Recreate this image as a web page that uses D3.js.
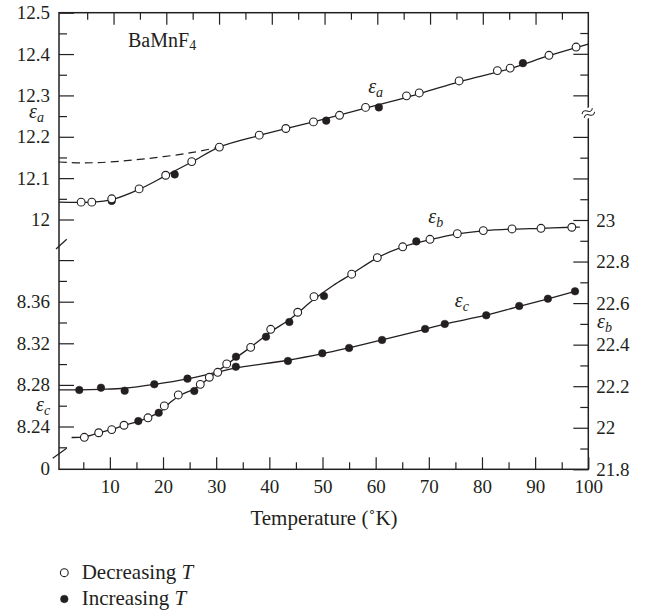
<!DOCTYPE html>
<html>
<head>
<meta charset="utf-8">
<script src="https://cdn.jsdelivr.net/npm/d3@7"></script>
<style>
  body { margin: 0; background: #fff; }
  svg { display: block; }
  svg text { font-family: "Liberation Serif", "DejaVu Serif", serif; }
</style>
</head>
<body>
<svg id="chart"></svg>
<script>
const app = (function () {
  'use strict';

  // epsilon_a (upper left scale), [T, value]
  const epsAOpen = [
    [4.6, 12.042], [6.6, 12.042], [10.35, 12.050], [15.5, 12.074], [20.5, 12.107],
    [25.4, 12.140], [30.6, 12.175], [38.1, 12.204], [43.1, 12.220], [48.3, 12.236],
    [53.2, 12.252], [58.1, 12.271], [65.8, 12.299], [68.2, 12.306], [75.7, 12.335],
    [82.9, 12.360], [85.3, 12.366], [92.6, 12.397], [97.7, 12.417]
  ];
  const epsAFilled = [[10.35, 12.045], [22.2, 12.109], [50.7, 12.239], [60.6, 12.271], [87.7, 12.378]];
  const epsALine = [
    [0.4, 12.042], [6.6, 12.042], [10.35, 12.048], [15.5, 12.073], [20.5, 12.106],
    [25.4, 12.139], [30.6, 12.175], [38.1, 12.203], [48.3, 12.236], [58.1, 12.269],
    [68.2, 12.304], [75.7, 12.333], [85.3, 12.365], [92.6, 12.396], [100, 12.424]
  ];
  const epsADashed = [[0.4, 12.139], [5, 12.137], [10, 12.139], [17.5, 12.148], [25, 12.161], [30.6, 12.175]];

  // epsilon_b (right scale)
  const epsBOpen = [
    [5.2, 21.954], [7.9, 21.976], [10.35, 21.991], [12.66, 22.012], [17.17, 22.048],
    [20.24, 22.105], [22.87, 22.158], [27.01, 22.209], [28.71, 22.243], [30.29, 22.267],
    [31.98, 22.307], [36.49, 22.387], [40.26, 22.474], [45.34, 22.556], [48.4, 22.631],
    [55.49, 22.739], [60.31, 22.819], [65.09, 22.871], [70.22, 22.907], [75.36, 22.934],
    [80.25, 22.949], [85.65, 22.957], [91.1, 22.960], [96.9, 22.965]
  ];
  const epsBFilled = [
    [15.35, 22.032], [19.19, 22.072], [25.88, 22.177], [33.73, 22.342],
    [39.37, 22.438], [43.76, 22.509], [50.28, 22.634], [67.65, 22.897]
  ];
  const epsBLine = [
    [2.8, 21.953], [5.2, 21.956], [7.9, 21.975], [10.35, 21.992], [12.66, 22.011],
    [15.35, 22.031], [17.17, 22.048], [19.5, 22.078], [21.5, 22.125], [23.5, 22.160],
    [25.9, 22.187], [28.7, 22.240], [32, 22.305], [36.5, 22.388], [40.3, 22.462],
    [44, 22.525], [48.4, 22.618], [52, 22.685], [55.5, 22.740], [60.3, 22.818],
    [65.1, 22.871], [70.2, 22.905], [75.4, 22.933], [80.2, 22.948], [85.6, 22.956],
    [91.1, 22.960], [96.9, 22.965], [98.4, 22.966]
  ];

  // epsilon_c (lower left scale)
  const epsCFilled = [
    [4.25, 8.2751], [8.33, 8.2773], [12.79, 8.2744], [18.36, 8.2806], [24.6, 8.2860],
    [33.7, 8.2975], [43.5, 8.3030], [49.96, 8.3104], [55.0, 8.3155], [61.2, 8.3232],
    [69.3, 8.3338], [73.0, 8.3386], [80.8, 8.3469], [87.0, 8.3559], [92.4, 8.3629], [97.5, 8.3700]
  ];
  const epsCLine = [
    [0.4, 8.2753], [4.25, 8.2752], [8.3, 8.2757], [12.8, 8.2768], [18.4, 8.2805],
    [24.6, 8.2858], [30, 8.2920], [33.7, 8.2963], [43.5, 8.3037], [50, 8.3100],
    [55, 8.3157], [61.2, 8.3232], [69.3, 8.3335], [73, 8.3385], [80.8, 8.3470],
    [87, 8.3556], [92.4, 8.3628], [97.5, 8.3700]
  ];

  // ticks
  const xMajor = [10, 20, 30, 40, 50, 60, 70, 80, 90, 100];
  const xMinor = [5, 15, 25, 35, 45, 55, 65, 75, 85, 95];
  const aMajor = [12, 12.1, 12.2, 12.3, 12.4, 12.5];
  const aMinor = [12.05, 12.15, 12.25, 12.35, 12.45];
  const cMajor = [8.24, 8.28, 8.32, 8.36, 8.40];
  const cMinor = [8.22, 8.26, 8.30, 8.34, 8.38];
  const bMajor = [21.8, 22, 22.2, 22.4, 22.6, 22.8, 23, 23.2, 23.4, 23.6, 23.8];
  const bMinor = [21.9, 22.1, 22.3, 22.5, 22.7, 22.9, 23.1, 23.3, 23.7, 23.9];

  const ink = '#231f20';

  function init () {
    draw();
  }

  function draw () {
    const W = 646;
    const H = 613;
    const frame = { left: 59, right: 588.3, top: 12.7, bottom: 469.3 };

    const x = d3.scaleLinear().domain([0, 100]).range([56.7, frame.right]);
    const xTop = d3.scaleLinear().domain([0, 100]).range([60.8, frame.right]);
    const yA = d3.scaleLinear().domain([12, 12.5]).range([219.5, frame.top]);
    const yB = d3.scaleLinear().domain([21.8, 23]).range([frame.bottom, 220]);
    const yC = d3.scaleLinear().domain([8.24, 8.36]).range([426.5, 301.7]);

    const svg = d3.select('#chart')
      .attr('width', W)
      .attr('height', H)
      .attr('viewBox', '0 0 ' + W + ' ' + H);

    function styleAxis (g) {
      g.select('.domain').remove();
      g.attr('font-family', null).attr('font-size', 19);
      g.selectAll('line').attr('stroke', ink).attr('stroke-width', 1.2);
      g.selectAll('text').attr('fill', ink);
    }

    // bottom
    svg.append('g')
      .attr('transform', 'translate(0,' + frame.bottom + ')')
      .call(d3.axisBottom(x).tickValues(xMajor).tickSizeInner(-12).tickSizeOuter(0).tickPadding(10.5).tickFormat(d3.format('d')))
      .call(styleAxis);
    svg.append('g')
      .attr('transform', 'translate(0,' + frame.bottom + ')')
      .call(d3.axisBottom(x).tickValues(xMinor).tickSizeInner(-7).tickSizeOuter(0).tickFormat(''))
      .call(styleAxis);

    // top
    svg.append('g')
      .attr('transform', 'translate(0,' + frame.top + ')')
      .call(d3.axisTop(xTop).tickValues(xMajor.slice(0, -1)).tickSizeInner(-12).tickSizeOuter(0).tickFormat(''))
      .call(styleAxis);
    svg.append('g')
      .attr('transform', 'translate(0,' + frame.top + ')')
      .call(d3.axisTop(xTop).tickValues(xMinor).tickSizeInner(-7).tickSizeOuter(0).tickFormat(''))
      .call(styleAxis);

    // left upper (eps a)
    svg.append('g')
      .attr('transform', 'translate(' + frame.left + ',0)')
      .call(d3.axisLeft(yA).tickValues(aMajor).tickSizeInner(-15).tickSizeOuter(0).tickPadding(9).tickFormat(function (d) { return String(d); }))
      .call(styleAxis);
    svg.append('g')
      .attr('transform', 'translate(' + frame.left + ',0)')
      .call(d3.axisLeft(yA).tickValues(aMinor).tickSizeInner(-8).tickSizeOuter(0).tickFormat(''))
      .call(styleAxis);

    // left lower (eps c)
    svg.append('g')
      .attr('transform', 'translate(' + frame.left + ',0)')
      .call(d3.axisLeft(yC).tickValues(cMajor).tickSizeInner(-15).tickSizeOuter(0).tickPadding(9)
        .tickFormat(function (d) { return d === 8.40 ? '' : d.toFixed(2); }))
      .call(styleAxis);
    svg.append('g')
      .attr('transform', 'translate(' + frame.left + ',0)')
      .call(d3.axisLeft(yC).tickValues(cMinor).tickSizeInner(-8).tickSizeOuter(0).tickFormat(''))
      .call(styleAxis);

    // right (eps b)
    svg.append('g')
      .attr('transform', 'translate(' + frame.right + ',0)')
      .call(d3.axisRight(yB).tickValues(bMajor).tickSizeInner(-15).tickSizeOuter(0).tickPadding(8)
        .tickFormat(function (d) { return d <= 23 ? String(d) : ''; }))
      .call(styleAxis);
    svg.append('g')
      .attr('transform', 'translate(' + frame.right + ',0)')
      .call(d3.axisRight(yB).tickValues(bMinor).tickSizeInner(-8).tickSizeOuter(0).tickFormat(''))
      .call(styleAxis);

    // frame
    svg.append('rect')
      .attr('x', frame.left)
      .attr('y', frame.top)
      .attr('width', frame.right - frame.left)
      .attr('height', frame.bottom - frame.top)
      .attr('fill', 'none')
      .attr('stroke', ink)
      .attr('stroke-width', 1.5);

    // "0" at the bottom of the left axis
    svg.append('text')
      .attr('x', frame.left - 9)
      .attr('y', frame.bottom)
      .attr('dy', '0.32em')
      .attr('text-anchor', 'end')
      .attr('font-size', 19)
      .attr('fill', ink)
      .text('0');

    // axis breaks
    svg.append('line')
      .attr('x1', frame.left - 3).attr('y1', 249)
      .attr('x2', frame.left + 7.7).attr('y2', 239.3)
      .attr('stroke', ink).attr('stroke-width', 1.2);
    svg.append('line')
      .attr('x1', frame.left - 6.3).attr('y1', 458.3)
      .attr('x2', frame.left + 7.7).attr('y2', 448.3)
      .attr('stroke', ink).attr('stroke-width', 1.2);
    const brk = svg.append('g')
      .attr('transform', 'translate(' + frame.right + ',113) rotate(-30)');
    brk.append('rect')
      .attr('x', -6).attr('y', -4.5)
      .attr('width', 12).attr('height', 9)
      .attr('fill', '#fff');
    [-2.2, 2.2].forEach(function (dy) {
      brk.append('path')
        .attr('d', 'M-6,' + dy + ' q3,-3.5 6,0 t6,0')
        .attr('fill', 'none')
        .attr('stroke', ink)
        .attr('stroke-width', 1);
    });

    // curves
    function lineFor (yScale) {
      return d3.line()
        .x(function (d) { return x(d[0]); })
        .y(function (d) { return yScale(d[1]); })
        .curve(d3.curveCatmullRom.alpha(0.5));
    }

    svg.append('path')
      .attr('d', lineFor(yA)(epsADashed))
      .attr('fill', 'none')
      .attr('stroke', ink)
      .attr('stroke-width', 1.2)
      .attr('stroke-dasharray', '8,5');

    [[epsALine, yA], [epsBLine, yB], [epsCLine, yC]].forEach(function (s) {
      svg.append('path')
        .attr('d', lineFor(s[1])(s[0]))
        .attr('fill', 'none')
        .attr('stroke', ink)
        .attr('stroke-width', 1.3);
    });

    // markers
    function dots (data, yScale, filled) {
      svg.append('g')
        .selectAll('circle')
        .data(data)
        .enter()
        .append('circle')
        .attr('cx', function (d) { return x(d[0]); })
        .attr('cy', function (d) { return yScale(d[1]); })
        .attr('r', filled ? 3.8 : 3.9)
        .attr('fill', filled ? ink : '#fff')
        .attr('stroke', ink)
        .attr('stroke-width', filled ? 0.5 : 1.1);
    }
    dots(epsCFilled, yC, true);
    dots(epsBFilled, yB, true);
    dots(epsAFilled, yA, true);
    dots(epsBOpen, yB, false);
    dots(epsAOpen, yA, false);

    // epsilon labels
    function eps (px, py, sub) {
      const t = svg.append('text')
        .attr('x', px)
        .attr('y', py)
        .attr('font-size', 20)
        .attr('font-style', 'italic')
        .attr('fill', ink);
      t.append('tspan').text('ε');
      t.append('tspan').attr('font-size', 14).attr('dy', 4).text(sub);
    }
    eps(29, 118, 'a');
    eps(36, 410.7, 'c');
    eps(597, 328, 'b');
    eps(x(58.6), yA(12.306), 'a');
    eps(x(69.9), yB(22.987), 'b');
    eps(x(74.9), yC(8.3552), 'c');

    // compound name
    const name = svg.append('text')
      .attr('x', 128)
      .attr('y', 47)
      .attr('font-size', 20)
      .attr('fill', ink);
    name.append('tspan').text('BaMnF');
    name.append('tspan').attr('font-size', 14).attr('dy', 3).text('4');

    // x axis title
    svg.append('text')
      .attr('x', 324)
      .attr('y', 524.5)
      .attr('text-anchor', 'middle')
      .attr('font-size', 21)
      .attr('fill', ink)
      .text('Temperature (˚K)');

    // legend
    const legend = [
      { label: 'Decreasing ', filled: false, y: 572.7 },
      { label: 'Increasing ', filled: true, y: 599 }
    ];
    legend.forEach(function (l) {
      svg.append('circle')
        .attr('cx', 64.3)
        .attr('cy', l.y)
        .attr('r', l.filled ? 3.8 : 3.9)
        .attr('fill', l.filled ? ink : '#fff')
        .attr('stroke', ink)
        .attr('stroke-width', l.filled ? 0.5 : 1.1);
      const t = svg.append('text')
        .attr('x', 81.7)
        .attr('y', l.y + 5.8)
        .attr('font-size', 21)
        .attr('fill', ink);
      t.append('tspan').text(l.label);
      t.append('tspan').attr('font-style', 'italic').text('T');
    });
  }

  return {
    init: init
  };
}());

window.addEventListener('load', app.init);
</script>
</body>
</html>
